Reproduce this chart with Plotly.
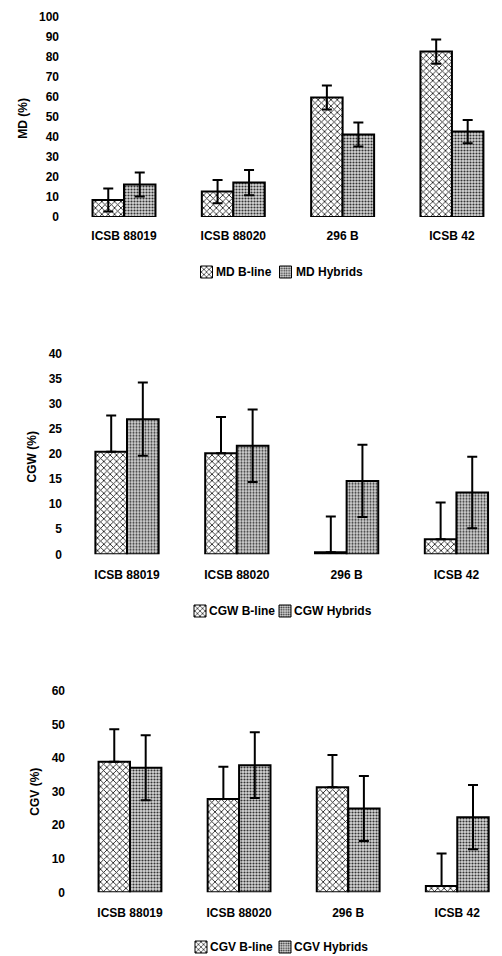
import plotly.graph_objects as go

categories = ["ICSB 88019", "ICSB 88020", "296 B", "ICSB 42"]

md_bline = [8.5, 12.7, 59.8, 82.7]
md_bline_err = [5.8, 5.8, 6.0, 6.1]
md_hybrid = [16.3, 17.2, 41.3, 42.7]
md_hybrid_err = [6.0, 6.3, 6.0, 5.8]

cgw_bline = [20.4, 20.1, 0.4, 3.0]
cgw_bline_err = [7.2, 7.2, 7.1, 7.3]
cgw_hybrid = [26.9, 21.6, 14.6, 12.3]
cgw_hybrid_err = [7.3, 7.2, 7.2, 7.1]

cgv_bline = [38.9, 27.8, 31.3, 1.9]
cgv_bline_err = [9.7, 9.6, 9.6, 9.7]
cgv_hybrid = [37.1, 37.9, 25.0, 22.4]
cgv_hybrid_err = [9.7, 9.8, 9.7, 9.6]

W, H = 502, 956
OFF = 8  # page body margin in the browser
FONT = dict(family="Liberation Sans, Arial, sans-serif", size=12, color="black", weight="bold")

bline_pattern = dict(shape="x", size=4.5, solidity=0.33, fgcolor="#111111", bgcolor="white")
hybrid_pattern = dict(shape=".", size=3, solidity=0.4, fgcolor="#333333", bgcolor="#d6d6d6")

fig = go.Figure(layout=dict(template="none"))

panels = [
    ("", "MD", md_bline, md_bline_err, False, md_hybrid, md_hybrid_err),
    ("2", "CGW", cgw_bline, cgw_bline_err, True, cgw_hybrid, cgw_hybrid_err),
    ("3", "CGV", cgv_bline, cgv_bline_err, True, cgv_hybrid, cgv_hybrid_err),
]

for suf, lab, bl, ble, plus_only, hy, hye in panels:
    xa = "x" + suf
    ya = "y" + suf
    err_b = dict(type="data", array=ble, symmetric=not plus_only, color="black", thickness=2, width=5)
    if plus_only:
        err_b["arrayminus"] = [0] * len(ble)
    fig.add_trace(go.Bar(
        x=categories, y=bl, name=f"{lab} B-line", xaxis=xa, yaxis=ya,
        marker=dict(color="white", pattern=bline_pattern, line=dict(color="black", width=2)),
        error_y=err_b, showlegend=False, offsetgroup="b",
    ))
    fig.add_trace(go.Bar(
        x=categories, y=hy, name=f"{lab} Hybrids", xaxis=xa, yaxis=ya,
        marker=dict(color="#d6d6d6", pattern=hybrid_pattern, line=dict(color="black", width=2)),
        error_y=dict(type="data", array=hye, color="black", thickness=2, width=5),
        showlegend=False, offsetgroup="h",
    ))

def px(x):
    return (x - OFF) / W

def py(y):
    return 1 - (y - OFF) / H

XR = px(502)
axis_common = dict(showgrid=False, zeroline=False, showline=False, ticks="",
                   tickfont=FONT, fixedrange=True, automargin=False)

fig.update_layout(
    xaxis=dict(domain=[px(70), XR], range=[-0.494, 3.458], anchor="y", ticklabelstandoff=10, **axis_common),
    yaxis=dict(domain=[py(217), py(17)], range=[0, 100], dtick=10, anchor="x", ticklabelstandoff=10, **axis_common),
    xaxis2=dict(domain=[px(72), XR], range=[-0.501, 3.415], anchor="y2", ticklabelstandoff=12, **axis_common),
    yaxis2=dict(domain=[py(554.3), py(353.3)], range=[0, 40], dtick=5, anchor="x2", ticklabelstandoff=9, **axis_common),
    xaxis3=dict(domain=[px(75), XR], range=[-0.504, 3.410], anchor="y3", ticklabelstandoff=12, **axis_common),
    yaxis3=dict(domain=[py(892.3), py(691)], range=[0, 60], dtick=10, anchor="x3", ticklabelstandoff=9, **axis_common),
)

# legend swatches: empty-data bar traces, one legend per swatch; label text as annotations
legend_specs = [
    # (legend id, pattern, bg, swatch centre x, centre y, label, text start x)
    ("legend", bline_pattern, "white", 206.5, 272, "MD B-line", 214),
    ("legend2", hybrid_pattern, "#d6d6d6", 285.5, 272, "MD Hybrids", 294),
    ("legend3", bline_pattern, "white", 200, 611, "CGW B-line", 207),
    ("legend4", hybrid_pattern, "#d6d6d6", 285, 611, "CGW Hybrids", 292),
    ("legend5", bline_pattern, "white", 201, 947, "CGV B-line", 208),
    ("legend6", hybrid_pattern, "#d6d6d6", 285, 947, "CGV Hybrids", 292),
]
annotations = []
for lid, pat, bg, sx, sy, label, tx in legend_specs:
    fig.add_trace(go.Bar(
        x=[None], y=[None], name="", legend=lid, showlegend=True, hoverinfo="skip",
        marker=dict(color=bg, pattern=pat, line=dict(color="black", width=1)),
    ))
    fig.update_layout({lid: dict(x=px(sx - 20), y=py(sy), xanchor="left", yanchor="middle",
                                 orientation="h", bgcolor="rgba(0,0,0,0)", borderwidth=0,
                                 font=FONT, itemwidth=30)})
    annotations.append(dict(text=label, x=px(tx), y=py(sy), xanchor="left", yanchor="middle",
                            xref="paper", yref="paper", showarrow=False, font=FONT))

for text, xx, yy in [("MD (%)", 22.7, 118), ("CGW (%)", 31.7, 456.7), ("CGV (%)", 35, 791.7)]:
    annotations.append(dict(text=text, x=px(xx), y=py(yy), xref="paper", yref="paper",
                            showarrow=False, textangle=-90, font=FONT,
                            xanchor="center", yanchor="middle"))

fig.update_layout(
    width=W, height=H, autosize=False,
    margin=dict(l=0, r=0, t=0, b=0, autoexpand=False),
    paper_bgcolor="white", plot_bgcolor="white",
    barmode="group", bargap=0.424, bargroupgap=0,
    showlegend=True, font=FONT,
    annotations=annotations,
)

fig.write_html("out.html")
